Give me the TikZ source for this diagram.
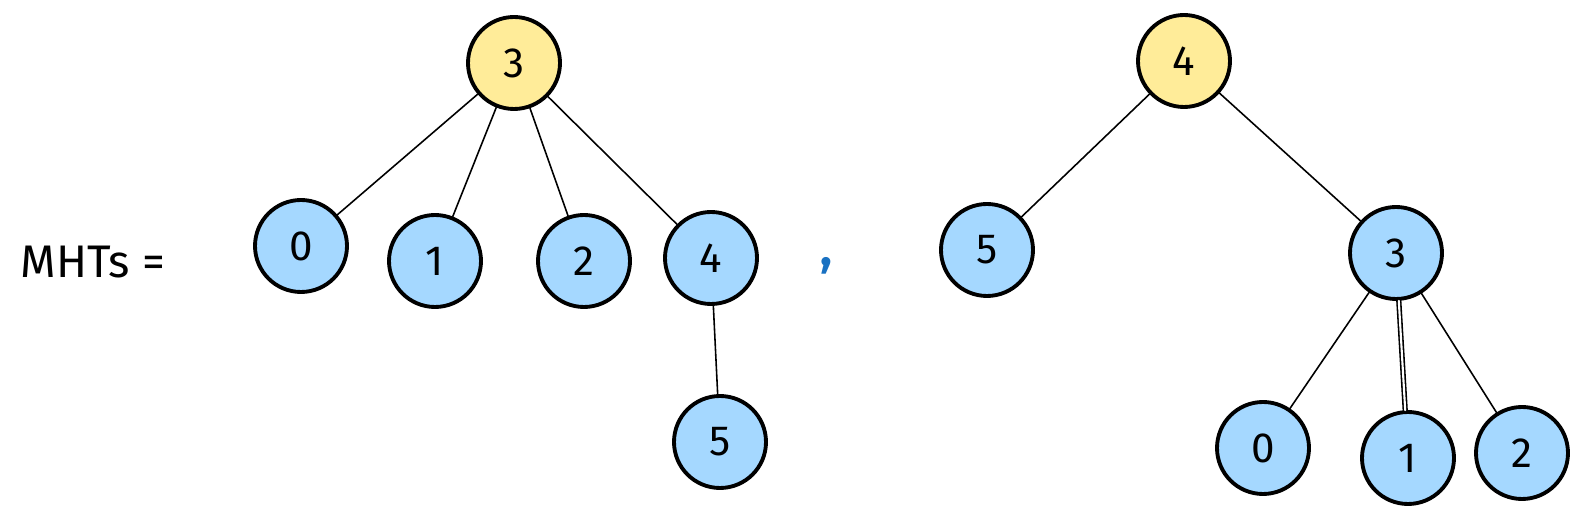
\documentclass[tikz,border=0pt]{standalone}
\usepackage{fontspec}
\setmainfont{Fira Sans}
\definecolor{blobblue}{HTML}{A5D8FF}
\definecolor{blobyellow}{HTML}{FFEC99}
\definecolor{commablue}{HTML}{1971C2}
\tikzset{
  blob/.style={circle, draw=black, line width=1.1pt, fill=blobblue, minimum size=0.92cm, inner sep=0pt, font=\fontsize{12}{14}\selectfont},
  root/.style={blob, fill=blobyellow},
  edge/.style={line width=0.45pt}
}
\begin{document}
\begin{tikzpicture}[x=1cm, y=-1cm, line join=round, line cap=round]
		\useasboundingbox (0,0) rectangle (15.87,5.23);
		\node[font=\fontsize{13}{15}\selectfont] (lbl) at (0.93,2.62) {MHTs =};
		% left tree
		\node[root] (L3) at (5.14,0.63) {3};
		\foreach \n/\x/\y in {0/3.01/2.46, 1/4.35/2.61, 2/5.84/2.61, 4/7.11/2.58, 5/7.20/4.42}
			\node[blob] (L\n) at (\x,\y) {\n};
		\foreach \n in {0,1,2,4}\draw[edge] (L3)--(L\n);
		\draw[edge] (L4)--(L5);
		% comma
		\node[text=commablue, font=\fontsize{14}{16}\bfseries] (sep) at (8.26,2.66) {,};
		% right tree
		\node[root] (R4) at (11.84,0.61) {4};
		\foreach \n/\x/\y in {5/9.87/2.50, 3/13.96/2.53, 0/12.63/4.48, 1/14.08/4.58, 2/15.22/4.53}
			\node[blob] (R\n) at (\x,\y) {\n};
		\draw[edge] (R4)--(R5) (R4)--(R3) (R3)--(R0) (R3)--(R2);
		\draw[edge, double, double distance=0.6pt] (R3)--(R1);
\end{tikzpicture}
\end{document}
